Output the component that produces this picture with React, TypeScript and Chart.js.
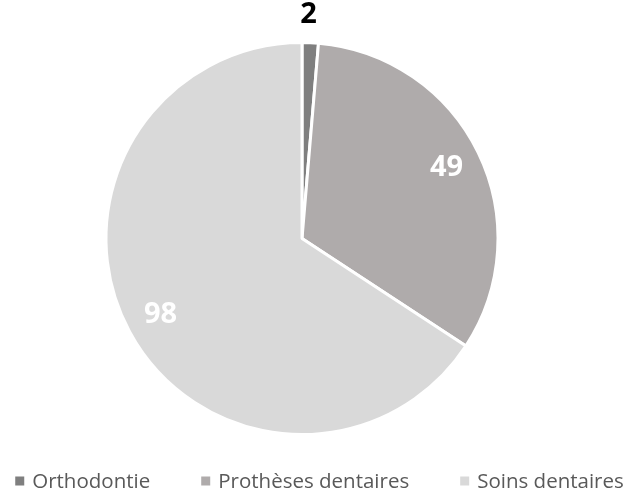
import React, { useEffect, useRef } from "react";
import { Chart, registerables } from "chart.js";

Chart.register(...registerables);

const categories = ["Orthodontie", "Prothèses dentaires", "Soins dentaires"];
const values = [2, 49, 98];
const colors = ["#7f7f7f", "#afabab", "#d9d9d9"];

const FONT = '"Open Sans", "Liberation Sans", sans-serif';

const dataLabelPlugin = {
  id: "dataLabels",
  afterDatasetsDraw(chart: any) {
    const ctx = chart.ctx;
    const meta = chart.getDatasetMeta(0);
    const data = chart.data.datasets[0].data as number[];
    const total = data.reduce((a, b) => a + b, 0);
    ctx.save();
    ctx.font = `bold 29px ${FONT}`;
    ctx.textAlign = "center";
    ctx.textBaseline = "middle";
    meta.data.forEach((arc: any, i: number) => {
      const { startAngle, endAngle, outerRadius, x, y } = arc.getProps(
        ["startAngle", "endAngle", "outerRadius", "x", "y"],
        true
      );
      const mid = (startAngle + endAngle) / 2;
      const small = data[i] / total < 0.05;
      const d = small ? outerRadius + 28 : outerRadius * 0.82;
      ctx.fillStyle = small ? "#000000" : "#ffffff";
      ctx.fillText(String(data[i]), x + Math.cos(mid) * d - (small ? 3 : 0), y + Math.sin(mid) * d);
    });
    ctx.restore();
  },
};

const legendPlugin = {
  id: "customLegend",
  afterDraw(chart: any) {
    const ctx = chart.ctx;
    const labels = chart.data.labels as string[];
    const bg = chart.data.datasets[0].backgroundColor as string[];
    const box = 9;
    const boxGap = 8;
    const itemGap = 51;
    const cy = 481;
    ctx.save();
    ctx.font = `20.5px ${FONT}`;
    ctx.textBaseline = "middle";
    ctx.textAlign = "left";
    const widths = labels.map((l) => ctx.measureText(l).width);
    const total =
      widths.reduce((a, b) => a + b, 0) +
      labels.length * (box + boxGap) +
      (labels.length - 1) * itemGap;
    let x = chart.width / 2 + 4 - total / 2;
    labels.forEach((l, i) => {
      ctx.fillStyle = bg[i];
      ctx.fillRect(x, cy - box / 2, box, box);
      x += box + boxGap;
      ctx.fillStyle = "#595959";
      ctx.fillText(l, x, cy + 1);
      x += widths[i] + itemGap;
    });
    ctx.restore();
  },
};

export default function App() {
  const ref = useRef<HTMLCanvasElement>(null);
  useEffect(() => {
    if (!ref.current) return;
    const chart = new Chart(ref.current, {
      type: "pie",
      data: {
        labels: categories,
        datasets: [
          {
            data: values,
            backgroundColor: colors,
            borderColor: "#ffffff",
            borderWidth: 3,
          },
        ],
      },
      options: {
        responsive: false,
        animation: false,
        layout: { padding: { top: 41, bottom: 57, left: 0, right: 27 } },
        plugins: {
          legend: { display: false },
          tooltip: { enabled: false },
        },
      },
      plugins: [dataLabelPlugin, legendPlugin],
    });
    return () => chart.destroy();
  }, []);
  return (
    <div style={{ position: "absolute", left: 0, top: 0, width: 631, height: 493, background: "#ffffff" }}>
      <canvas ref={ref} width={631} height={493} />
    </div>
  );
}
